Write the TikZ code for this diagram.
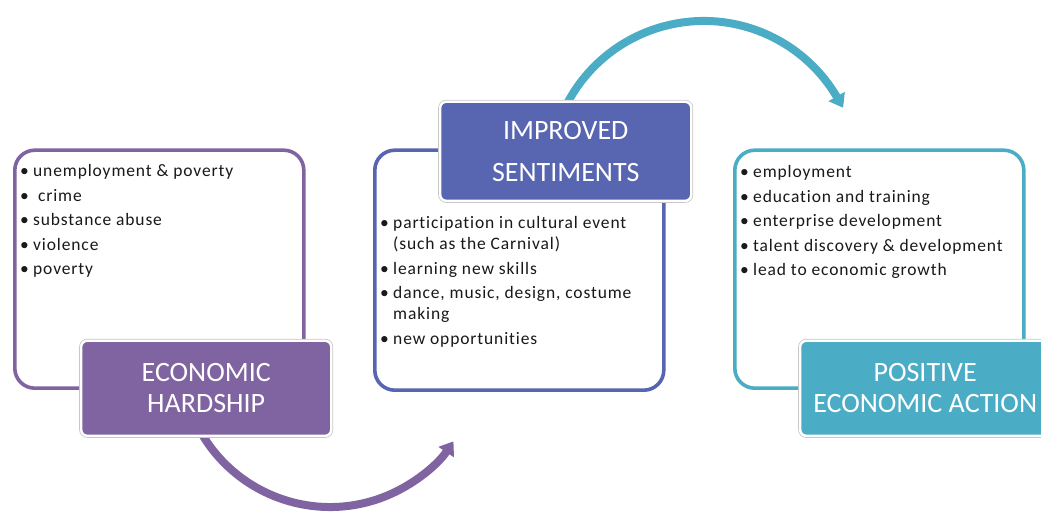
\documentclass[tikz,border=0pt]{standalone}
\usepackage{fontspec}
\setmainfont[Ligatures=NoCommon]{Carlito}
\newfontfamily\listfont[LetterSpace=5,Ligatures=NoCommon]{Carlito}
\usetikzlibrary{arrows.meta}
\definecolor{cpurple}{RGB}{128,100,162}
\definecolor{cblue}{RGB}{88,101,176}
\definecolor{cteal}{RGB}{75,172,198}
\definecolor{ctext}{RGB}{25,25,25}
\tikzset{
  outerbox/.style={draw=#1, line width=3.6pt, fill=white, rounded corners=20pt,
    minimum width=289pt, minimum height=238pt, inner sep=0pt, anchor=south west},
  labelbox/.style={fill=#1, draw=white, line width=2.4pt, rounded corners=6pt,
    preaction={draw=black!22, line width=4pt},
    minimum width=250pt, minimum height=95pt, inner sep=0pt, text=white,
    font=\fontsize{28}{31}\selectfont, align=center, anchor=south west},
  listtext/.style={anchor=base west, inner sep=0pt,
    font=\listfont\fontsize{17.5}{21}\selectfont, text=ctext},
  flow/.style={line width=8pt, draw=#1, -{Triangle[width=18pt,length=13pt]}},
}
\newcommand{\itm}[1]{\makebox[13pt][l]{•}#1}
\begin{document}
\begin{tikzpicture}[x=1pt,y=1pt]
\useasboundingbox (0,0) rectangle (1041,513);
\clip (0,0) rectangle (1041,513);
% connector start points (hidden behind the label boxes)
\coordinate (ps) at (195.05,91.97);
\coordinate (ts) at (563.8,402.8);
\draw[flow=cpurple] (ps) arc[start angle=205, end angle=326, radius=148.9];
\draw[flow=cteal] (ts) arc[start angle=155, end angle=30, radius=154.5] -- ++(-60:11);
% content boxes
\node[outerbox=cpurple] (hb) at (13,123) {};
\node[outerbox=cblue, minimum height=240pt] (ib) at (373,121) {};
\node[outerbox=cteal] (pb) at (733,123) {};
% label boxes
\node[labelbox=cpurple] (hl) at (80,76) {ECONOMIC\\HARDSHIP};
\node[labelbox=cblue, minimum height=99pt, minimum width=251pt,
      font=\fontsize{28}{42}\selectfont] (il) at (439,311) {IMPROVED\\SENTIMENTS};
\node[labelbox=cteal] (pl) at (799,76) {POSITIVE\\ECONOMIC ACTION};
% lists
\node[listtext] (hlist) at (20,336) {\begin{tabular}[t]{@{}l@{}}
\itm{unemployment \& poverty}\\[3.5pt]
\itm{\ crime}\\[3.5pt]
\itm{substance abuse}\\[3.5pt]
\itm{violence}\\[3.5pt]
\itm{poverty}
\end{tabular}};
\node[listtext] (ilist) at (380,284) {\begin{tabular}[t]{@{}l@{}}
\itm{participation in cultural event}\\
\hspace*{13pt}(such as the Carnival)\\[3.5pt]
\itm{learning new skills}\\[3.5pt]
\itm{dance, music, design, costume}\\
\hspace*{13pt}making\\[3.5pt]
\itm{new opportunities}
\end{tabular}};
\node[listtext] (plist) at (740,335) {\begin{tabular}[t]{@{}l@{}}
\itm{employment}\\[3.5pt]
\itm{education and training}\\[3.5pt]
\itm{enterprise development}\\[3.5pt]
\itm{talent discovery \& development}\\[3.5pt]
\itm{lead to economic growth}
\end{tabular}};
\end{tikzpicture}
\end{document}
